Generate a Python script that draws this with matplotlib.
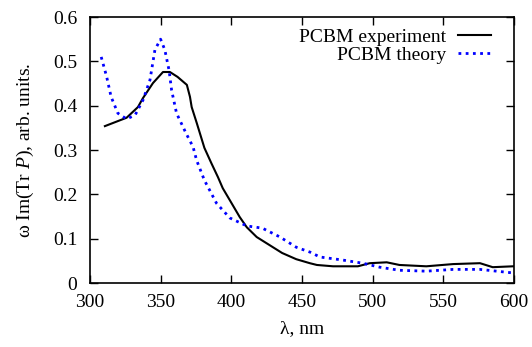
import numpy as np
import matplotlib
matplotlib.use('Agg')
import matplotlib.pyplot as plt

plt.rcParams['font.family'] = ['Liberation Serif', 'DejaVu Serif']
plt.rcParams['mathtext.fontset'] = 'custom'
plt.rcParams['mathtext.it'] = 'Liberation Serif:italic'
plt.rcParams['mathtext.rm'] = 'Liberation Serif'

# PCBM experiment
exp_wl = [310.6, 326, 334, 337.5, 344.6, 351.7, 356.6, 362, 368.6, 370.8, 372,
          375.6, 381, 386, 390.6, 394, 399, 406, 411, 418, 427, 436, 446,
          455.6, 460.6, 472, 489.6, 498, 510, 519, 538, 557, 576, 585, 599.5]
exp_val = [0.354, 0.373, 0.397, 0.417, 0.451, 0.476, 0.476, 0.465, 0.447, 0.42, 0.397,
           0.361, 0.305, 0.27, 0.239, 0.214, 0.187, 0.149, 0.126, 0.104, 0.086, 0.068, 0.054,
           0.045, 0.041, 0.038, 0.038, 0.045, 0.047, 0.041, 0.038, 0.043, 0.045, 0.036, 0.038]

# PCBM theory
th_wl = [308, 311.8, 315, 319.8, 326, 332, 337.6, 342.5, 346, 350, 353, 356,
         357.8, 361.3, 368, 373, 375.5, 381, 389.6, 399, 411, 422, 434.5, 446,
         455.7, 462.7, 479, 493, 505, 519, 538, 557, 576, 599.5]
th_val = [0.51, 0.466, 0.42, 0.383, 0.37, 0.379, 0.413, 0.458, 0.526, 0.55, 0.526, 0.48,
          0.435, 0.383, 0.338, 0.307, 0.277, 0.232, 0.18, 0.147, 0.129, 0.124, 0.104, 0.081,
          0.07, 0.059, 0.052, 0.045, 0.036, 0.029, 0.027, 0.031, 0.031, 0.023]

fig = plt.figure(figsize=(5.32, 3.47), dpi=100)
ax = fig.add_axes([0.169, 0.184, 0.797, 0.767])

ax.plot(exp_wl, exp_val, color='k', lw=1.5, label='PCBM experiment')
ax.plot(th_wl, th_val, color='#0000ff', lw=2, ls=(0, (1, 1.6)), label='PCBM theory')

ax.set_xlim(300, 600)
ax.set_ylim(0, 0.6)
ax.set_xticks(np.arange(300, 601, 50))
ax.set_yticks(np.arange(0, 0.61, 0.1))
ax.set_yticklabels(['0', '0.1', '0.2', '0.3', '0.4', '0.5', '0.6'])
ax.tick_params(direction='in', top=True, right=True, labelsize=14, length=6, width=1)
ax.tick_params(axis='y', pad=9)
ax.tick_params(axis='x', pad=8)
for s in ax.spines.values():
    s.set_linewidth(1.2)

ax.set_xlabel('λ, nm', fontsize=14, labelpad=6)
ax.set_ylabel('ω Im(Tr $\\mathit{P}$), arb. units.', fontsize=14, labelpad=12)

ax.legend(loc='upper right', bbox_to_anchor=(0.95, 0.966), frameon=False,
          markerfirst=False, fontsize=14, handlelength=1.7, handletextpad=0.6,
          borderaxespad=0, borderpad=0.1, labelspacing=0.05)

fig.savefig('out.png', dpi=100)
